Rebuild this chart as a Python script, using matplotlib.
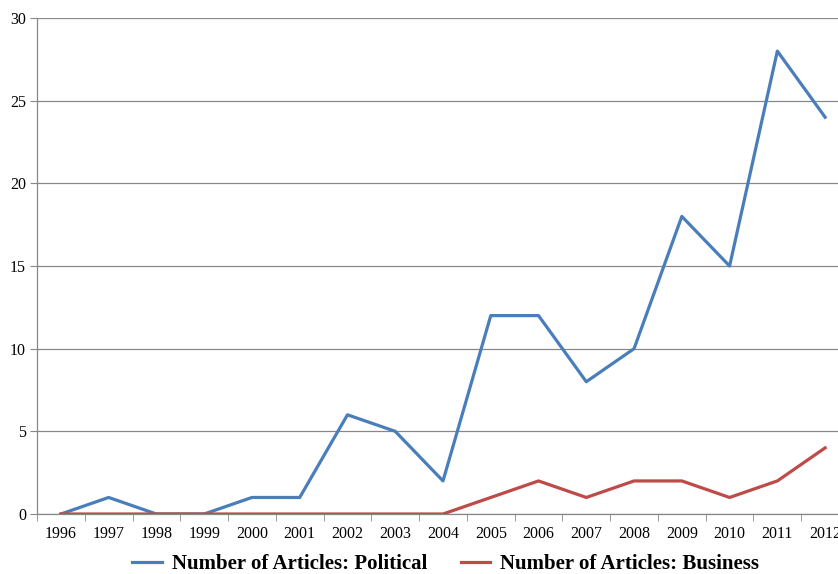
import matplotlib
matplotlib.use("Agg")
import matplotlib.pyplot as plt

years = ["1996", "1997", "1998", "1999", "2000", "2001", "2002", "2003", "2004",
         "2005", "2006", "2007", "2008", "2009", "2010", "2011", "2012"]
political = [0, 1, 0, 0, 1, 1, 6, 5, 2, 12, 12, 8, 10, 18, 15, 28, 24]
business = [0, 0, 0, 0, 0, 0, 0, 0, 0, 1, 2, 1, 2, 2, 1, 2, 4]

plt.rcParams['font.family'] = ['Liberation Serif', 'DejaVu Serif']

fig = plt.figure(figsize=(8.38, 5.74), dpi=100)
# plot area runs past the right edge, as in the original (2012 is cut off)
ax = fig.add_axes([37 / 838, 60 / 574, 812 / 838, 496 / 574])

x = list(range(len(years)))
ax.plot(x, political, color="#4A7EBB", linewidth=2.3, label="Number of Articles: Political")
ax.plot(x, business, color="#BE4B48", linewidth=2.3, label="Number of Articles: Business")

ax.set_ylim(0, 30)
ax.set_yticks(range(0, 31, 5))
ax.set_xlim(-0.5, 16.5)
ax.set_xticks(x)
ax.set_xticklabels(years)
ax.set_xticks([i - 0.5 for i in range(len(years) + 1)], minor=True)
ax.tick_params(axis='x', which='major', length=0, labelsize=11.5, pad=9)
ax.tick_params(axis='x', which='minor', length=5, color="#888888", direction='out')
ax.tick_params(axis='y', length=5, color="#888888", labelsize=11.5, pad=3)

ax.grid(axis='y', color="#888888", linewidth=0.9)
ax.set_axisbelow(True)
for side in ['top', 'right']:
    ax.spines[side].set_visible(False)
for side in ['left', 'bottom']:
    ax.spines[side].set_color("#888888")
    ax.spines[side].set_linewidth(0.9)

fig.legend(loc='center', bbox_to_anchor=(0.532, 10 / 574), ncol=2, frameon=False,
           prop={'weight': 'bold', 'size': 15}, handlelength=1.4, handletextpad=0.5,
           columnspacing=1.6)

fig.savefig("out.png", dpi=100)
